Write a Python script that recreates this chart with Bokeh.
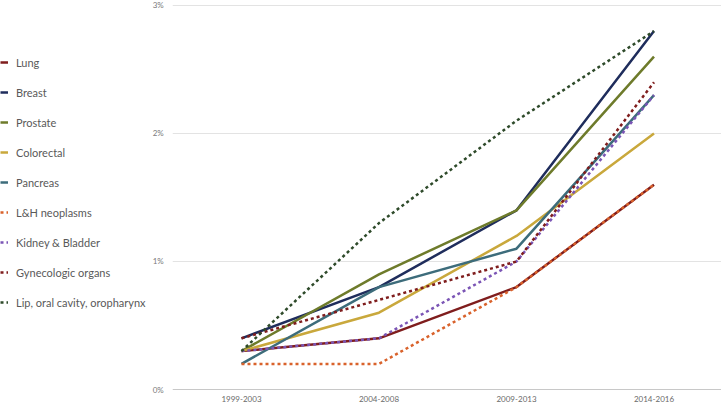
from bokeh.plotting import figure
from bokeh.models import ColumnDataSource, Legend, LegendItem, Range1d
from bokeh.embed import file_html
from bokeh.resources import INLINE

periods = ["1999-2003", "2004-2008", "2009-2013", "2014-2016"]
period_pos = [0, 1, 2, 3]

lung = [0.3, 0.4, 0.8, 1.6]
breast = [0.4, 0.8, 1.4, 2.8]
prostate = [0.3, 0.9, 1.4, 2.6]
colorectal = [0.3, 0.6, 1.2, 2.0]
pancreas = [0.2, 0.8, 1.1, 2.3]
lh_neoplasms = [0.2, 0.2, 0.8, 1.6]
kidney_bladder = [0.3, 0.4, 1.0, 2.3]
gynecologic = [0.4, 0.7, 1.0, 2.4]
lip_oral = [0.3, 1.3, 2.1, 2.8]

y_ticks = [0, 1, 2, 3]
y_tick_labels = ["0%", "1%", "2%", "3%"]

series = [
    ("Lung", lung, "#7f1d1d", None),
    ("Breast", breast, "#1f2d5c", None),
    ("Prostate", prostate, "#6e7b2b", None),
    ("Colorectal", colorectal, "#c9a83c", None),
    ("Pancreas", pancreas, "#3d6c7b", None),
    ("L&H neoplasms", lh_neoplasms, "#d9622b", "3 3"),
    ("Kidney & Bladder", kidney_bladder, "#7b55b5", "3 3"),
    ("Gynecologic organs", gynecologic, "#7f1d1d", "3 3"),
    ("Lip, oral cavity, oropharynx", lip_oral, "#2e4a2a", "3 3"),
]

FONT = "Lato"
X_LEFT = period_pos[0] - 0.5
X_RIGHT = period_pos[-1] + 0.5

p = figure(width=721, height=407, x_range=Range1d(-1.7527, 3.4909), y_range=Range1d(-0.1406, 3.039),
           output_backend="svg", toolbar_location=None,
           min_border_left=0, min_border_right=0, min_border_top=0, min_border_bottom=0)
p.outline_line_color = None
p.background_fill_color = "white"
p.border_fill_color = "white"
p.xgrid.grid_line_color = None
p.ygrid.grid_line_color = None
p.xaxis.visible = False
p.yaxis.visible = False

# gridlines within plot area
grid_src = ColumnDataSource(dict(x0=[X_LEFT] * 3, x1=[X_RIGHT] * 3, y=y_ticks[1:]))
p.segment(x0="x0", y0="y", x1="x1", y1="y", source=grid_src, line_color="#e3e3e3", line_width=1)
# category axis line
p.segment(x0=[X_LEFT], y0=[y_ticks[0]], x1=[X_RIGHT], y1=[y_ticks[0]], line_color="#c8c8c8", line_width=1)

# y tick labels
ylab_src = ColumnDataSource(dict(x=[X_LEFT] * 4, y=y_ticks, t=y_tick_labels))
p.text(x="x", y="y", text="t", source=ylab_src, x_offset=-9, text_align="right",
       text_baseline="middle", text_font_size="8px", text_color="#7a7a7a",
       text_font={"value": FONT})

# x category labels
xlab_src = ColumnDataSource(dict(x=period_pos, y=[y_ticks[0]] * 4, t=periods))
p.text(x="x", y="y", text="t", source=xlab_src, y_offset=9, text_align="center",
       text_baseline="middle", text_font_size="8px", text_color="#6a6a6a",
       text_font={"value": FONT})

items = []
for name, vals, color, dash in series:
    src = ColumnDataSource(dict(x=period_pos, y=vals))
    kw = dict(line_color=color, line_width=2.5, line_join="round")
    if dash:
        kw["line_dash"] = dash
        kw["line_cap"] = "butt"
    r = p.line("x", "y", source=src, **kw)
    items.append(LegendItem(label=name, renderers=[r]))

legend = Legend(items=items, location=(0, 95), orientation="vertical")
legend.margin = 0
legend.padding = 0
legend.spacing = 10
legend.glyph_width = 8
legend.glyph_height = 20
legend.label_height = 20
legend.label_standoff = 8
legend.label_text_font = FONT
legend.label_text_font_size = "11px"
legend.label_text_color = "#595959"
legend.background_fill_alpha = 0
legend.border_line_color = None
p.add_layout(legend, "center")

open("out.html", "w").write(file_html(p, INLINE))
